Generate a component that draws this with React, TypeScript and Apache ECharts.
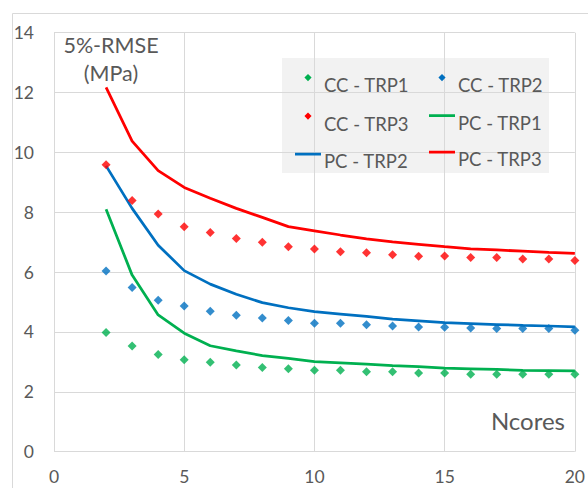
import React, { useEffect, useRef } from "react";
import * as echarts from "echarts";

const ncores = [2, 3, 4, 5, 6, 7, 8, 9, 10, 11, 12, 13, 14, 15, 16, 17, 18, 19, 20];
const ccTrp1 = [3.98, 3.53, 3.25, 3.07, 2.99, 2.9, 2.81, 2.77, 2.72, 2.72, 2.67, 2.67, 2.63, 2.63, 2.59, 2.59, 2.59, 2.59, 2.59];
const ccTrp2 = [6.04, 5.49, 5.06, 4.87, 4.69, 4.56, 4.47, 4.38, 4.29, 4.29, 4.24, 4.2, 4.17, 4.16, 4.13, 4.12, 4.12, 4.12, 4.06];
const ccTrp3 = [9.59, 8.39, 7.94, 7.52, 7.32, 7.12, 7.0, 6.85, 6.77, 6.68, 6.65, 6.58, 6.53, 6.54, 6.49, 6.49, 6.44, 6.44, 6.39];
const pcTrp1 = [8.1, 5.9, 4.57, 3.96, 3.54, 3.37, 3.21, 3.12, 3.01, 2.97, 2.93, 2.88, 2.84, 2.79, 2.77, 2.75, 2.72, 2.71, 2.7];
const pcTrp2 = [9.55, 8.13, 6.9, 6.05, 5.6, 5.26, 4.98, 4.81, 4.68, 4.6, 4.52, 4.43, 4.37, 4.31, 4.28, 4.25, 4.22, 4.2, 4.17];
const pcTrp3 = [12.17, 10.38, 9.39, 8.83, 8.47, 8.13, 7.83, 7.52, 7.38, 7.24, 7.11, 7.01, 6.93, 6.85, 6.78, 6.74, 6.7, 6.66, 6.63];

const legendCol1 = ["CC - TRP1", "CC - TRP3", "PC - TRP2"];
const legendCol2 = ["CC - TRP2", "PC - TRP1", "PC - TRP3"];

const GREEN = "#00B050";
const BLUE = "#0070C0";
const RED = "#FF0000";
const TEXT = "#595959";
const GRID = "#D9D9D9";
const FONT = "Lato, 'Open Sans', sans-serif";

const colorOf: Record<string, string> = {
  "CC - TRP1": GREEN,
  "CC - TRP2": BLUE,
  "CC - TRP3": RED,
  "PC - TRP1": GREEN,
  "PC - TRP2": BLUE,
  "PC - TRP3": RED,
};

// legend icons: raised above the text's middle, like the original's legend
const DIAMOND_ICON = "path://M4,0.5L7.5,4L4,7.5L0.5,4Z M4,22L4.01,22";
const LINE_ICON = "path://M0,0L26,0L26,2.75L0,2.75Z M13,16.75L13.01,16.75";

const pairs = (vals: number[]) => vals.map((v, i) => [ncores[i], v]);

const legendItems = (names: string[]) =>
  names.map((name) => ({
    name,
    icon: name.startsWith("CC") ? DIAMOND_ICON : LINE_ICON,
    itemStyle: { color: colorOf[name], borderWidth: 0, opacity: 1 },
  }));

export default function App() {
  const ref = useRef<HTMLDivElement>(null);
  useEffect(() => {
    if (!ref.current) return;
    const chart = echarts.init(ref.current, undefined, { renderer: "svg" });
    const scatter = (name: string, vals: number[]) => ({
      name,
      type: "scatter",
      data: pairs(vals),
      symbol: "diamond",
      symbolSize: 9,
      itemStyle: { color: colorOf[name] },
      z: 3,
    });
    const line = (name: string, vals: number[]) => ({
      name,
      type: "line",
      data: pairs(vals),
      symbol: "none",
      lineStyle: { color: colorOf[name], width: 2.75 },
      itemStyle: { color: colorOf[name] },
      z: 2,
    });
    const legendBase = {
      orient: "vertical",
      top: 74,
      padding: 0,
      itemWidth: 26,
      itemHeight: 22,
      itemGap: 16.5,
      symbolKeepAspect: true,
      textStyle: { color: TEXT, fontFamily: FONT, fontSize: 18.5, lineHeight: 20, padding: [0, 0, 0, -2] },
    };
    chart.setOption({
      animation: false,
      backgroundColor: "#FFFFFF",
      grid: { left: 54, right: 11, top: 32.7, bottom: 36.3 },
      xAxis: {
        type: "value",
        min: 0,
        max: 20,
        interval: 5,
        axisLine: { show: false },
        axisTick: { show: false },
        axisLabel: { color: TEXT, fontFamily: FONT, fontSize: 17.5, margin: 16 },
        splitLine: { show: true, lineStyle: { color: GRID, width: 1 } },
      },
      yAxis: {
        type: "value",
        min: 0,
        max: 14,
        interval: 2,
        axisLine: { show: false },
        axisTick: { show: false },
        axisLabel: { color: TEXT, fontFamily: FONT, fontSize: 17.5, margin: 20 },
        splitLine: { show: true, lineStyle: { color: GRID, width: 1 } },
      },
      legend: [
        { ...legendBase, left: 295, data: legendItems(legendCol1) },
        { ...legendBase, left: 429, data: legendItems(legendCol2) },
      ],
      graphic: [
        {
          type: "rect",
          left: 10,
          top: 11,
          shape: { width: 600, height: 500 },
          style: { fill: "none", stroke: GRID, lineWidth: 1 },
          silent: true,
          z: -10,
        },
        {
          type: "rect",
          left: 282,
          top: 58,
          shape: { width: 267, height: 115 },
          style: { fill: "#F2F2F2" },
          silent: true,
          z: 0,
        },
        {
          type: "text",
          x: 111,
          y: 45,
          style: { text: "5%-RMSE", fill: TEXT, font: `21.5px ${FONT}`, textAlign: "center", textVerticalAlign: "middle" },
        },
        {
          type: "text",
          x: 111,
          y: 73,
          style: { text: "(MPa)", fill: TEXT, font: `21.5px ${FONT}`, textAlign: "center", textVerticalAlign: "middle" },
        },
        {
          type: "text",
          x: 565,
          y: 420,
          style: { text: "Ncores", fill: TEXT, font: `24px ${FONT}`, textAlign: "right", textVerticalAlign: "middle" },
        },
      ],
      series: [
        scatter("CC - TRP1", ccTrp1),
        scatter("CC - TRP2", ccTrp2),
        scatter("CC - TRP3", ccTrp3),
        line("PC - TRP1", pcTrp1),
        line("PC - TRP2", pcTrp2),
        line("PC - TRP3", pcTrp3),
      ],
    });
    return () => chart.dispose();
  }, []);
  return (
    <div
      ref={ref}
      style={{ position: "fixed", left: 0, top: 0, width: 588, height: 488 }}
    />
  );
}
